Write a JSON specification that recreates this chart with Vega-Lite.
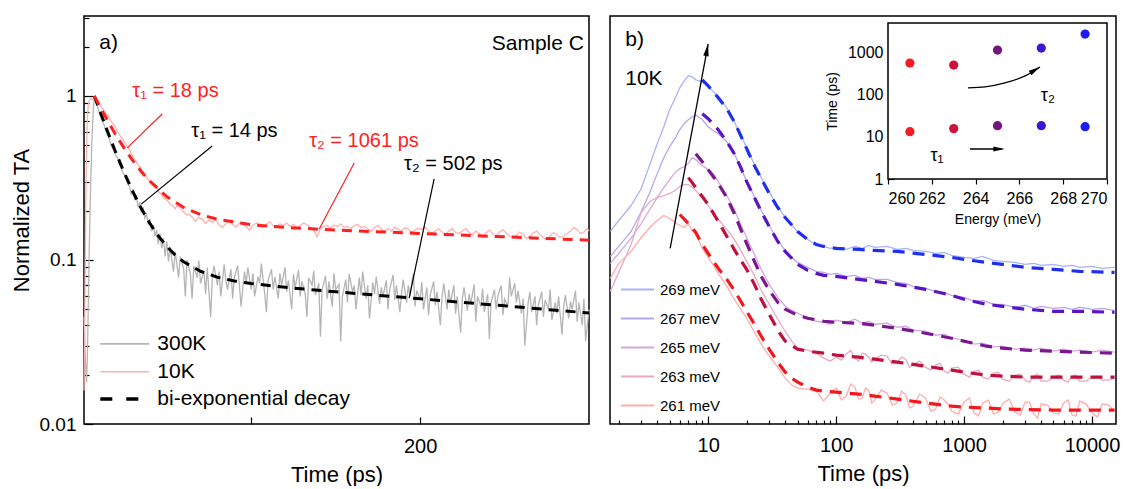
{
  "$schema": "https://vega.github.io/schema/vega-lite/v6.json",
  "background": "white",
  "padding": {"left": 9, "top": 15, "right": 5, "bottom": 0},
  "spacing": 10,
  "resolve": {"scale": {"color": "independent", "stroke": "independent", "fill": "independent"}, "legend": {"color": "independent"}},
  "config": {
    "font": "Liberation Sans",
    "view": {"stroke": "#000000", "strokeWidth": 1.5},
    "axis": {"domain": false, "grid": false, "labelColor": "#000000", "titleColor": "#000000", "tickColor": "#000000", "tickWidth": 1.2, "titleFontWeight": "normal", "labelFontSize": 20, "titleFontSize": 22},
    "legend": {"labelColor": "#000000", "labelLimit": 400}
  },
  "datasets": {
    "tracesA": [
      {"t":1,"v":0.045,"series":"300K"},{"t":1.5,"v":0.03,"series":"300K"},{"t":2,"v":0.022,"series":"300K"},{"t":2.5,"v":0.018,"series":"300K"},{"t":3,"v":0.026,"series":"300K"},{"t":3.5,"v":0.05,"series":"300K"},{"t":4,"v":0.1,"series":"300K"},{"t":4.5,"v":0.18,"series":"300K"},{"t":5,"v":0.3,"series":"300K"},{"t":5.5,"v":0.46,"series":"300K"},{"t":6,"v":0.64,"series":"300K"},{"t":6.5,"v":0.82,"series":"300K"},{"t":7,"v":0.95,"series":"300K"},{"t":7.5,"v":0.99,"series":"300K"},{"t":8,"v":0.94,"series":"300K"},{"t":9,"v":0.86,"series":"300K"},{"t":10,"v":0.8,"series":"300K"},{"t":11,"v":0.74,"series":"300K"},{"t":12,"v":0.7,"series":"300K"},{"t":13,"v":0.66,"series":"300K"},{"t":14,"v":0.61,"series":"300K"},{"t":15,"v":0.58,"series":"300K"},{"t":16,"v":0.55,"series":"300K"},{"t":17,"v":0.5,"series":"300K"},{"t":18,"v":0.48,"series":"300K"},{"t":19,"v":0.46,"series":"300K"},{"t":20,"v":0.43,"series":"300K"},{"t":21,"v":0.42,"series":"300K"},{"t":22,"v":0.38,"series":"300K"},{"t":23,"v":0.37,"series":"300K"},{"t":24,"v":0.34,"series":"300K"},{"t":25,"v":0.33,"series":"300K"},{"t":26,"v":0.31,"series":"300K"},{"t":27,"v":0.29,"series":"300K"},{"t":28,"v":0.28,"series":"300K"},{"t":29,"v":0.25,"series":"300K"},{"t":30,"v":0.27,"series":"300K"},{"t":31,"v":0.235,"series":"300K"},{"t":32,"v":0.245,"series":"300K"},{"t":33,"v":0.21,"series":"300K"},{"t":34,"v":0.225,"series":"300K"},{"t":35,"v":0.195,"series":"300K"},{"t":36,"v":0.21,"series":"300K"},{"t":37,"v":0.18,"series":"300K"},{"t":38,"v":0.19,"series":"300K"},{"t":39,"v":0.165,"series":"300K"},{"t":40,"v":0.178,"series":"300K"},{"t":41,"v":0.15,"series":"300K"},{"t":42,"v":0.163,"series":"300K"},{"t":43,"v":0.14,"series":"300K"},{"t":44,"v":0.152,"series":"300K"},{"t":45,"v":0.125,"series":"300K"},{"t":46,"v":0.145,"series":"300K"},{"t":47,"v":0.118,"series":"300K"},{"t":48,"v":0.136,"series":"300K"},{"t":49,"v":0.105,"series":"300K"},{"t":50,"v":0.13,"series":"300K"},{"t":51,"v":0.098,"series":"300K"},{"t":52,"v":0.12,"series":"300K"},{"t":53,"v":0.1,"series":"300K"},{"t":54,"v":0.085,"series":"300K"},{"t":55,"v":0.112,"series":"300K"},{"t":56,"v":0.094,"series":"300K"},{"t":57,"v":0.078,"series":"300K"},{"t":58,"v":0.105,"series":"300K"},{"t":60,"v":0.088,"series":"300K"},{"t":61,"v":0.06,"series":"300K"},{"t":62,"v":0.1,"series":"300K"},{"t":64,"v":0.082,"series":"300K"},{"t":65,"v":0.058,"series":"300K"},{"t":66,"v":0.092,"series":"300K"},{"t":68,"v":0.078,"series":"300K"},{"t":69,"v":0.099,"series":"300K"},{"t":70,"v":0.072,"series":"300K"},{"t":72,"v":0.086,"series":"300K"},{"t":73,"v":0.062,"series":"300K"},{"t":74,"v":0.09,"series":"300K"},{"t":76,"v":0.045,"series":"300K"},{"t":77,"v":0.08,"series":"300K"},{"t":78,"v":0.092,"series":"300K"},{"t":80,"v":0.07,"series":"300K"},{"t":81,"v":0.085,"series":"300K"},{"t":82,"v":0.06,"series":"300K"},{"t":84,"v":0.094,"series":"300K"},{"t":85,"v":0.075,"series":"300K"},{"t":86,"v":0.066,"series":"300K"},{"t":88,"v":0.088,"series":"300K"},{"t":89,"v":0.058,"series":"300K"},{"t":90,"v":0.078,"series":"300K"},{"t":92,"v":0.092,"series":"300K"},{"t":93,"v":0.07,"series":"300K"},{"t":94,"v":0.052,"series":"300K"},{"t":96,"v":0.085,"series":"300K"},{"t":97,"v":0.072,"series":"300K"},{"t":98,"v":0.09,"series":"300K"},{"t":100,"v":0.066,"series":"300K"},{"t":101,"v":0.083,"series":"300K"},{"t":102,"v":0.06,"series":"300K"},{"t":104,"v":0.079,"series":"300K"},{"t":105,"v":0.072,"series":"300K"},{"t":106,"v":0.095,"series":"300K"},{"t":108,"v":0.062,"series":"300K"},{"t":109,"v":0.048,"series":"300K"},{"t":110,"v":0.075,"series":"300K"},{"t":112,"v":0.088,"series":"300K"},{"t":113,"v":0.066,"series":"300K"},{"t":114,"v":0.079,"series":"300K"},{"t":116,"v":0.058,"series":"300K"},{"t":117,"v":0.083,"series":"300K"},{"t":118,"v":0.07,"series":"300K"},{"t":120,"v":0.09,"series":"300K"},{"t":121,"v":0.064,"series":"300K"},{"t":122,"v":0.075,"series":"300K"},{"t":124,"v":0.05,"series":"300K"},{"t":125,"v":0.082,"series":"300K"},{"t":126,"v":0.068,"series":"300K"},{"t":128,"v":0.087,"series":"300K"},{"t":129,"v":0.06,"series":"300K"},{"t":130,"v":0.074,"series":"300K"},{"t":132,"v":0.062,"series":"300K"},{"t":133,"v":0.045,"series":"300K"},{"t":134,"v":0.078,"series":"300K"},{"t":136,"v":0.07,"series":"300K"},{"t":137,"v":0.086,"series":"300K"},{"t":138,"v":0.061,"series":"300K"},{"t":140,"v":0.072,"series":"300K"},{"t":141,"v":0.034,"series":"300K"},{"t":142,"v":0.066,"series":"300K"},{"t":144,"v":0.08,"series":"300K"},{"t":145,"v":0.058,"series":"300K"},{"t":146,"v":0.074,"series":"300K"},{"t":148,"v":0.052,"series":"300K"},{"t":149,"v":0.083,"series":"300K"},{"t":150,"v":0.066,"series":"300K"},{"t":152,"v":0.071,"series":"300K"},{"t":153,"v":0.032,"series":"300K"},{"t":154,"v":0.06,"series":"300K"},{"t":156,"v":0.076,"series":"300K"},{"t":157,"v":0.055,"series":"300K"},{"t":158,"v":0.082,"series":"300K"},{"t":160,"v":0.064,"series":"300K"},{"t":161,"v":0.07,"series":"300K"},{"t":162,"v":0.05,"series":"300K"},{"t":164,"v":0.078,"series":"300K"},{"t":165,"v":0.061,"series":"300K"},{"t":166,"v":0.085,"series":"300K"},{"t":168,"v":0.058,"series":"300K"},{"t":169,"v":0.07,"series":"300K"},{"t":170,"v":0.044,"series":"300K"},{"t":172,"v":0.073,"series":"300K"},{"t":173,"v":0.062,"series":"300K"},{"t":174,"v":0.079,"series":"300K"},{"t":176,"v":0.054,"series":"300K"},{"t":177,"v":0.068,"series":"300K"},{"t":178,"v":0.06,"series":"300K"},{"t":180,"v":0.075,"series":"300K"},{"t":181,"v":0.05,"series":"300K"},{"t":182,"v":0.066,"series":"300K"},{"t":184,"v":0.081,"series":"300K"},{"t":185,"v":0.057,"series":"300K"},{"t":186,"v":0.07,"series":"300K"},{"t":188,"v":0.048,"series":"300K"},{"t":189,"v":0.062,"series":"300K"},{"t":190,"v":0.076,"series":"300K"},{"t":192,"v":0.055,"series":"300K"},{"t":193,"v":0.07,"series":"300K"},{"t":194,"v":0.06,"series":"300K"},{"t":196,"v":0.083,"series":"300K"},{"t":197,"v":0.052,"series":"300K"},{"t":198,"v":0.065,"series":"300K"},{"t":200,"v":0.058,"series":"300K"},{"t":201,"v":0.073,"series":"300K"},{"t":202,"v":0.05,"series":"300K"},{"t":204,"v":0.068,"series":"300K"},{"t":205,"v":0.046,"series":"300K"},{"t":206,"v":0.061,"series":"300K"},{"t":208,"v":0.074,"series":"300K"},{"t":209,"v":0.053,"series":"300K"},{"t":210,"v":0.064,"series":"300K"},{"t":212,"v":0.04,"series":"300K"},{"t":213,"v":0.06,"series":"300K"},{"t":214,"v":0.072,"series":"300K"},{"t":216,"v":0.05,"series":"300K"},{"t":217,"v":0.066,"series":"300K"},{"t":218,"v":0.055,"series":"300K"},{"t":220,"v":0.07,"series":"300K"},{"t":221,"v":0.047,"series":"300K"},{"t":222,"v":0.06,"series":"300K"},{"t":224,"v":0.036,"series":"300K"},{"t":225,"v":0.058,"series":"300K"},{"t":226,"v":0.068,"series":"300K"},{"t":228,"v":0.049,"series":"300K"},{"t":229,"v":0.062,"series":"300K"},{"t":230,"v":0.054,"series":"300K"},{"t":232,"v":0.071,"series":"300K"},{"t":233,"v":0.042,"series":"300K"},{"t":234,"v":0.06,"series":"300K"},{"t":236,"v":0.052,"series":"300K"},{"t":237,"v":0.067,"series":"300K"},{"t":238,"v":0.048,"series":"300K"},{"t":240,"v":0.062,"series":"300K"},{"t":241,"v":0.033,"series":"300K"},{"t":242,"v":0.055,"series":"300K"},{"t":244,"v":0.066,"series":"300K"},{"t":245,"v":0.05,"series":"300K"},{"t":246,"v":0.06,"series":"300K"},{"t":248,"v":0.07,"series":"300K"},{"t":249,"v":0.046,"series":"300K"},{"t":250,"v":0.058,"series":"300K"},{"t":252,"v":0.052,"series":"300K"},{"t":253,"v":0.078,"series":"300K"},{"t":254,"v":0.06,"series":"300K"},{"t":256,"v":0.072,"series":"300K"},{"t":257,"v":0.055,"series":"300K"},{"t":258,"v":0.065,"series":"300K"},{"t":260,"v":0.047,"series":"300K"},{"t":261,"v":0.058,"series":"300K"},{"t":262,"v":0.03,"series":"300K"},{"t":264,"v":0.055,"series":"300K"},{"t":265,"v":0.064,"series":"300K"},{"t":266,"v":0.048,"series":"300K"},{"t":268,"v":0.06,"series":"300K"},{"t":269,"v":0.04,"series":"300K"},{"t":270,"v":0.053,"series":"300K"},{"t":272,"v":0.064,"series":"300K"},{"t":273,"v":0.045,"series":"300K"},{"t":274,"v":0.057,"series":"300K"},{"t":276,"v":0.05,"series":"300K"},{"t":277,"v":0.066,"series":"300K"},{"t":278,"v":0.043,"series":"300K"},{"t":280,"v":0.055,"series":"300K"},{"t":281,"v":0.047,"series":"300K"},{"t":282,"v":0.06,"series":"300K"},{"t":284,"v":0.035,"series":"300K"},{"t":285,"v":0.052,"series":"300K"},{"t":286,"v":0.061,"series":"300K"},{"t":288,"v":0.044,"series":"300K"},{"t":289,"v":0.056,"series":"300K"},{"t":290,"v":0.05,"series":"300K"},{"t":292,"v":0.065,"series":"300K"},{"t":293,"v":0.042,"series":"300K"},{"t":294,"v":0.055,"series":"300K"},{"t":296,"v":0.04,"series":"300K"},{"t":297,"v":0.058,"series":"300K"},{"t":298,"v":0.032,"series":"300K"},{"t":300,"v":0.05,"series":"300K"},
      {"t":1,"v":0.016,"series":"10K"},{"t":1.5,"v":0.05,"series":"10K"},{"t":2,"v":0.2,"series":"10K"},{"t":2.5,"v":0.45,"series":"10K"},{"t":3,"v":0.72,"series":"10K"},{"t":3.5,"v":0.88,"series":"10K"},{"t":4,"v":0.93,"series":"10K"},{"t":4.5,"v":0.955,"series":"10K"},{"t":5,"v":0.96,"series":"10K"},{"t":5.5,"v":0.955,"series":"10K"},{"t":6,"v":0.95,"series":"10K"},{"t":6.5,"v":0.96,"series":"10K"},{"t":7,"v":0.975,"series":"10K"},{"t":7.5,"v":0.97,"series":"10K"},{"t":8,"v":0.95,"series":"10K"},{"t":9,"v":0.93,"series":"10K"},{"t":10,"v":0.9,"series":"10K"},{"t":11,"v":0.87,"series":"10K"},{"t":12,"v":0.84,"series":"10K"},{"t":13,"v":0.81,"series":"10K"},{"t":14,"v":0.78,"series":"10K"},{"t":15,"v":0.76,"series":"10K"},{"t":16,"v":0.73,"series":"10K"},{"t":17,"v":0.7,"series":"10K"},{"t":18,"v":0.68,"series":"10K"},{"t":19,"v":0.66,"series":"10K"},{"t":20,"v":0.63,"series":"10K"},{"t":21,"v":0.6,"series":"10K"},{"t":22,"v":0.58,"series":"10K"},{"t":23,"v":0.56,"series":"10K"},{"t":24,"v":0.545,"series":"10K"},{"t":25,"v":0.52,"series":"10K"},{"t":26,"v":0.5,"series":"10K"},{"t":27,"v":0.49,"series":"10K"},{"t":28,"v":0.47,"series":"10K"},{"t":29,"v":0.445,"series":"10K"},{"t":30,"v":0.43,"series":"10K"},{"t":31,"v":0.41,"series":"10K"},{"t":32,"v":0.395,"series":"10K"},{"t":33,"v":0.38,"series":"10K"},{"t":34,"v":0.37,"series":"10K"},{"t":35,"v":0.355,"series":"10K"},{"t":36,"v":0.34,"series":"10K"},{"t":38,"v":0.32,"series":"10K"},{"t":40,"v":0.3,"series":"10K"},{"t":42,"v":0.285,"series":"10K"},{"t":43,"v":0.29,"series":"10K"},{"t":45,"v":0.262,"series":"10K"},{"t":47,"v":0.25,"series":"10K"},{"t":48,"v":0.238,"series":"10K"},{"t":50,"v":0.232,"series":"10K"},{"t":52,"v":0.22,"series":"10K"},{"t":54,"v":0.212,"series":"10K"},{"t":55,"v":0.205,"series":"10K"},{"t":56,"v":0.215,"series":"10K"},{"t":58,"v":0.208,"series":"10K"},{"t":60,"v":0.196,"series":"10K"},{"t":62,"v":0.188,"series":"10K"},{"t":63,"v":0.19,"series":"10K"},{"t":65,"v":0.183,"series":"10K"},{"t":67,"v":0.172,"series":"10K"},{"t":69,"v":0.182,"series":"10K"},{"t":71,"v":0.178,"series":"10K"},{"t":73,"v":0.167,"series":"10K"},{"t":75,"v":0.175,"series":"10K"},{"t":77,"v":0.17,"series":"10K"},{"t":79,"v":0.176,"series":"10K"},{"t":81,"v":0.163,"series":"10K"},{"t":83,"v":0.158,"series":"10K"},{"t":85,"v":0.166,"series":"10K"},{"t":87,"v":0.172,"series":"10K"},{"t":89,"v":0.165,"series":"10K"},{"t":91,"v":0.158,"series":"10K"},{"t":93,"v":0.168,"series":"10K"},{"t":95,"v":0.166,"series":"10K"},{"t":97,"v":0.16,"series":"10K"},{"t":99,"v":0.152,"series":"10K"},{"t":101,"v":0.162,"series":"10K"},{"t":103,"v":0.168,"series":"10K"},{"t":105,"v":0.165,"series":"10K"},{"t":107,"v":0.158,"series":"10K"},{"t":109,"v":0.165,"series":"10K"},{"t":111,"v":0.17,"series":"10K"},{"t":113,"v":0.162,"series":"10K"},{"t":115,"v":0.158,"series":"10K"},{"t":117,"v":0.166,"series":"10K"},{"t":119,"v":0.162,"series":"10K"},{"t":121,"v":0.168,"series":"10K"},{"t":123,"v":0.16,"series":"10K"},{"t":125,"v":0.165,"series":"10K"},{"t":127,"v":0.157,"series":"10K"},{"t":129,"v":0.162,"series":"10K"},{"t":131,"v":0.168,"series":"10K"},{"t":133,"v":0.164,"series":"10K"},{"t":135,"v":0.158,"series":"10K"},{"t":137,"v":0.152,"series":"10K"},{"t":139,"v":0.138,"series":"10K"},{"t":141,"v":0.155,"series":"10K"},{"t":143,"v":0.16,"series":"10K"},{"t":145,"v":0.162,"series":"10K"},{"t":147,"v":0.157,"series":"10K"},{"t":149,"v":0.163,"series":"10K"},{"t":151,"v":0.16,"series":"10K"},{"t":153,"v":0.166,"series":"10K"},{"t":155,"v":0.158,"series":"10K"},{"t":157,"v":0.16,"series":"10K"},{"t":159,"v":0.155,"series":"10K"},{"t":161,"v":0.162,"series":"10K"},{"t":163,"v":0.165,"series":"10K"},{"t":165,"v":0.157,"series":"10K"},{"t":167,"v":0.16,"series":"10K"},{"t":169,"v":0.155,"series":"10K"},{"t":171,"v":0.15,"series":"10K"},{"t":173,"v":0.157,"series":"10K"},{"t":175,"v":0.162,"series":"10K"},{"t":177,"v":0.155,"series":"10K"},{"t":179,"v":0.148,"series":"10K"},{"t":181,"v":0.156,"series":"10K"},{"t":183,"v":0.15,"series":"10K"},{"t":185,"v":0.158,"series":"10K"},{"t":187,"v":0.154,"series":"10K"},{"t":189,"v":0.15,"series":"10K"},{"t":191,"v":0.157,"series":"10K"},{"t":193,"v":0.154,"series":"10K"},{"t":195,"v":0.148,"series":"10K"},{"t":197,"v":0.152,"series":"10K"},{"t":199,"v":0.156,"series":"10K"},{"t":201,"v":0.153,"series":"10K"},{"t":203,"v":0.158,"series":"10K"},{"t":205,"v":0.15,"series":"10K"},{"t":207,"v":0.146,"series":"10K"},{"t":209,"v":0.15,"series":"10K"},{"t":211,"v":0.155,"series":"10K"},{"t":213,"v":0.148,"series":"10K"},{"t":215,"v":0.142,"series":"10K"},{"t":217,"v":0.15,"series":"10K"},{"t":219,"v":0.155,"series":"10K"},{"t":221,"v":0.147,"series":"10K"},{"t":223,"v":0.145,"series":"10K"},{"t":225,"v":0.15,"series":"10K"},{"t":227,"v":0.155,"series":"10K"},{"t":229,"v":0.147,"series":"10K"},{"t":231,"v":0.142,"series":"10K"},{"t":233,"v":0.15,"series":"10K"},{"t":235,"v":0.145,"series":"10K"},{"t":237,"v":0.138,"series":"10K"},{"t":239,"v":0.146,"series":"10K"},{"t":241,"v":0.152,"series":"10K"},{"t":243,"v":0.145,"series":"10K"},{"t":245,"v":0.14,"series":"10K"},{"t":247,"v":0.148,"series":"10K"},{"t":249,"v":0.153,"series":"10K"},{"t":251,"v":0.146,"series":"10K"},{"t":253,"v":0.14,"series":"10K"},{"t":255,"v":0.136,"series":"10K"},{"t":257,"v":0.142,"series":"10K"},{"t":259,"v":0.148,"series":"10K"},{"t":261,"v":0.143,"series":"10K"},{"t":263,"v":0.135,"series":"10K"},{"t":265,"v":0.14,"series":"10K"},{"t":267,"v":0.146,"series":"10K"},{"t":269,"v":0.15,"series":"10K"},{"t":271,"v":0.142,"series":"10K"},{"t":273,"v":0.137,"series":"10K"},{"t":275,"v":0.133,"series":"10K"},{"t":277,"v":0.14,"series":"10K"},{"t":279,"v":0.147,"series":"10K"},{"t":281,"v":0.142,"series":"10K"},{"t":283,"v":0.137,"series":"10K"},{"t":285,"v":0.14,"series":"10K"},{"t":287,"v":0.145,"series":"10K"},{"t":289,"v":0.15,"series":"10K"},{"t":291,"v":0.158,"series":"10K"},{"t":293,"v":0.153,"series":"10K"},{"t":295,"v":0.145,"series":"10K"},{"t":297,"v":0.148,"series":"10K"},{"t":299,"v":0.155,"series":"10K"},{"t":300,"v":0.15,"series":"10K"}
    ],
    "fitsA": [
      {"t":7.1,"v":1,"series":"bi-exponential decay"},{"t":10,"v":0.829,"series":"bi-exponential decay"},{"t":15,"v":0.604,"series":"bi-exponential decay"},{"t":20,"v":0.447,"series":"bi-exponential decay"},{"t":25,"v":0.337,"series":"bi-exponential decay"},{"t":30,"v":0.26,"series":"bi-exponential decay"},{"t":35,"v":0.205,"series":"bi-exponential decay"},{"t":40,"v":0.167,"series":"bi-exponential decay"},{"t":45,"v":0.14,"series":"bi-exponential decay"},{"t":50,"v":0.121,"series":"bi-exponential decay"},{"t":55,"v":0.107,"series":"bi-exponential decay"},{"t":60,"v":0.0974,"series":"bi-exponential decay"},{"t":70,"v":0.0853,"series":"bi-exponential decay"},{"t":80,"v":0.0785,"series":"bi-exponential decay"},{"t":90,"v":0.0745,"series":"bi-exponential decay"},{"t":100,"v":0.0718,"series":"bi-exponential decay"},{"t":125,"v":0.0673,"series":"bi-exponential decay"},{"t":150,"v":0.064,"series":"bi-exponential decay"},{"t":175,"v":0.0609,"series":"bi-exponential decay"},{"t":200,"v":0.058,"series":"bi-exponential decay"},{"t":225,"v":0.0551,"series":"bi-exponential decay"},{"t":250,"v":0.0525,"series":"bi-exponential decay"},{"t":275,"v":0.0499,"series":"bi-exponential decay"},{"t":300,"v":0.0475,"series":"bi-exponential decay"},
      {"t":7.1,"v":1,"series":"bi-exponential decay (10K)"},{"t":10,"v":0.877,"series":"bi-exponential decay (10K)"},{"t":15,"v":0.705,"series":"bi-exponential decay (10K)"},{"t":20,"v":0.575,"series":"bi-exponential decay (10K)"},{"t":25,"v":0.477,"series":"bi-exponential decay (10K)"},{"t":30,"v":0.402,"series":"bi-exponential decay (10K)"},{"t":35,"v":0.345,"series":"bi-exponential decay (10K)"},{"t":40,"v":0.302,"series":"bi-exponential decay (10K)"},{"t":50,"v":0.243,"series":"bi-exponential decay (10K)"},{"t":60,"v":0.209,"series":"bi-exponential decay (10K)"},{"t":70,"v":0.189,"series":"bi-exponential decay (10K)"},{"t":80,"v":0.177,"series":"bi-exponential decay (10K)"},{"t":100,"v":0.164,"series":"bi-exponential decay (10K)"},{"t":120,"v":0.158,"series":"bi-exponential decay (10K)"},{"t":150,"v":0.152,"series":"bi-exponential decay (10K)"},{"t":200,"v":0.1451,"series":"bi-exponential decay (10K)"},{"t":250,"v":0.1384,"series":"bi-exponential decay (10K)"},{"t":300,"v":0.132,"series":"bi-exponential decay (10K)"}
    ],
    "keyA": [
      {"t":10.65,"t2":39.6,"v":0.0308,"series":"300K"},
      {"t":10.65,"t2":39.6,"v":0.0208,"series":"10K"},
      {"t":10.65,"t2":39.6,"v":0.0142,"series":"bi-exponential decay"}
    ],
    "keyLabelsA": [
      {"t":44.4,"v":0.0308,"text":"300K"},
      {"t":44.4,"v":0.0208,"text":"10K"},
      {"t":44.4,"v":0.0142,"text":"bi-exponential decay"}
    ],
    "leadersA": [
      {"t":47.3,"v":0.776,"t2":26.6,"v2":0.482,"sample":"10K"},
      {"t":76.9,"v":0.495,"t2":34.9,"v2":0.219,"sample":"300K"},
      {"t":161,"v":0.39,"t2":140.2,"v2":0.154,"sample":"10K"},
      {"t":208.3,"v":0.312,"t2":193.5,"v2":0.0586,"sample":"300K"}
    ],
    "notesA": [
      {"t":29.6,"v":1.07,"text":"τ₁ = 18 ps","sample":"10K"},
      {"t":64.5,"v":0.612,"text":"τ₁ = 14 ps","sample":"300K"},
      {"t":134.3,"v":0.532,"text":"τ₂ = 1061 ps","sample":"10K"},
      {"t":190.5,"v":0.385,"text":"τ₂ = 502 ps","sample":"300K"}
    ],
    "panelTagA": [{"t":10,"v":2.1,"text":"a)"}],
    "sampleTagA": [{"t":297,"v":2.08,"text":"Sample C"}],
    "tracesB": [
      {"t":1.72,"v":193,"label":"269 meV"},{"t":2,"v":204,"label":"269 meV"},{"t":2.5,"v":219,"label":"269 meV"},{"t":3,"v":236,"label":"269 meV"},{"t":3.5,"v":260,"label":"269 meV"},{"t":4,"v":281,"label":"269 meV"},{"t":4.5,"v":298,"label":"269 meV"},{"t":5,"v":315,"label":"269 meV"},{"t":5.5,"v":326,"label":"269 meV"},{"t":6,"v":337,"label":"269 meV"},{"t":6.5,"v":344,"label":"269 meV"},{"t":7,"v":349,"label":"269 meV"},{"t":7.5,"v":348,"label":"269 meV"},{"t":8,"v":345,"label":"269 meV"},{"t":9,"v":343,"label":"269 meV"},{"t":10,"v":339,"label":"269 meV"},{"t":11,"v":333,"label":"269 meV"},{"t":12,"v":328,"label":"269 meV"},{"t":14,"v":317,"label":"269 meV"},{"t":16,"v":303,"label":"269 meV"},{"t":18,"v":290,"label":"269 meV"},{"t":20,"v":277,"label":"269 meV"},{"t":23,"v":260,"label":"269 meV"},{"t":26,"v":247,"label":"269 meV"},{"t":30,"v":233,"label":"269 meV"},{"t":35,"v":218,"label":"269 meV"},{"t":40,"v":207,"label":"269 meV"},{"t":45,"v":199,"label":"269 meV"},{"t":50,"v":193,"label":"269 meV"},{"t":60,"v":185,"label":"269 meV"},{"t":70,"v":180,"label":"269 meV"},{"t":80,"v":178,"label":"269 meV"},{"t":90,"v":176,"label":"269 meV"},{"t":100,"v":177,"label":"269 meV"},{"t":120,"v":175,"label":"269 meV"},{"t":140,"v":178,"label":"269 meV"},{"t":160,"v":176,"label":"269 meV"},{"t":180,"v":179,"label":"269 meV"},{"t":200,"v":177,"label":"269 meV"},{"t":250,"v":178,"label":"269 meV"},{"t":300,"v":175,"label":"269 meV"},{"t":350,"v":176,"label":"269 meV"},{"t":400,"v":174,"label":"269 meV"},{"t":500,"v":173,"label":"269 meV"},{"t":600,"v":171,"label":"269 meV"},{"t":700,"v":172,"label":"269 meV"},{"t":800,"v":169,"label":"269 meV"},{"t":1000,"v":167,"label":"269 meV"},{"t":1200,"v":166,"label":"269 meV"},{"t":1400,"v":168,"label":"269 meV"},{"t":1700,"v":164,"label":"269 meV"},{"t":2000,"v":163,"label":"269 meV"},{"t":2500,"v":162,"label":"269 meV"},{"t":3000,"v":160,"label":"269 meV"},{"t":3500,"v":161,"label":"269 meV"},{"t":4000,"v":159,"label":"269 meV"},{"t":5000,"v":160,"label":"269 meV"},{"t":6000,"v":158,"label":"269 meV"},{"t":7000,"v":159,"label":"269 meV"},{"t":8000,"v":157,"label":"269 meV"},{"t":10000,"v":158,"label":"269 meV"},{"t":12000,"v":156,"label":"269 meV"},{"t":15000,"v":157,"label":"269 meV"},
      {"t":1.72,"v":168,"label":"267 meV"},{"t":2,"v":178,"label":"267 meV"},{"t":2.5,"v":193,"label":"267 meV"},{"t":3,"v":213,"label":"267 meV"},{"t":3.5,"v":232,"label":"267 meV"},{"t":4,"v":251,"label":"267 meV"},{"t":4.5,"v":267,"label":"267 meV"},{"t":5,"v":278,"label":"267 meV"},{"t":5.5,"v":286,"label":"267 meV"},{"t":6,"v":295,"label":"267 meV"},{"t":6.5,"v":301,"label":"267 meV"},{"t":7,"v":305,"label":"267 meV"},{"t":7.5,"v":308,"label":"267 meV"},{"t":8,"v":310,"label":"267 meV"},{"t":9,"v":305,"label":"267 meV"},{"t":10,"v":298,"label":"267 meV"},{"t":11,"v":294,"label":"267 meV"},{"t":12,"v":291,"label":"267 meV"},{"t":14,"v":283,"label":"267 meV"},{"t":16,"v":271,"label":"267 meV"},{"t":18,"v":257,"label":"267 meV"},{"t":20,"v":243,"label":"267 meV"},{"t":23,"v":228,"label":"267 meV"},{"t":26,"v":214,"label":"267 meV"},{"t":30,"v":199,"label":"267 meV"},{"t":35,"v":184,"label":"267 meV"},{"t":40,"v":174,"label":"267 meV"},{"t":45,"v":167,"label":"267 meV"},{"t":50,"v":162,"label":"267 meV"},{"t":60,"v":157,"label":"267 meV"},{"t":70,"v":153,"label":"267 meV"},{"t":80,"v":152,"label":"267 meV"},{"t":90,"v":150,"label":"267 meV"},{"t":100,"v":151,"label":"267 meV"},{"t":120,"v":148,"label":"267 meV"},{"t":140,"v":149,"label":"267 meV"},{"t":160,"v":146,"label":"267 meV"},{"t":180,"v":147,"label":"267 meV"},{"t":200,"v":145,"label":"267 meV"},{"t":250,"v":145,"label":"267 meV"},{"t":300,"v":142,"label":"267 meV"},{"t":350,"v":141,"label":"267 meV"},{"t":400,"v":138,"label":"267 meV"},{"t":500,"v":136,"label":"267 meV"},{"t":600,"v":133,"label":"267 meV"},{"t":700,"v":132,"label":"267 meV"},{"t":800,"v":129,"label":"267 meV"},{"t":1000,"v":127,"label":"267 meV"},{"t":1200,"v":123,"label":"267 meV"},{"t":1400,"v":124,"label":"267 meV"},{"t":1700,"v":120,"label":"267 meV"},{"t":2000,"v":120,"label":"267 meV"},{"t":2500,"v":117,"label":"267 meV"},{"t":3000,"v":119,"label":"267 meV"},{"t":3500,"v":116,"label":"267 meV"},{"t":4000,"v":118,"label":"267 meV"},{"t":5000,"v":116,"label":"267 meV"},{"t":6000,"v":117,"label":"267 meV"},{"t":7000,"v":115,"label":"267 meV"},{"t":8000,"v":117,"label":"267 meV"},{"t":10000,"v":115,"label":"267 meV"},{"t":12000,"v":116,"label":"267 meV"},{"t":15000,"v":114,"label":"267 meV"},
      {"t":1.72,"v":161,"label":"265 meV"},{"t":2,"v":171,"label":"265 meV"},{"t":2.5,"v":186,"label":"265 meV"},{"t":3,"v":201,"label":"265 meV"},{"t":3.5,"v":215,"label":"265 meV"},{"t":4,"v":227,"label":"265 meV"},{"t":4.5,"v":237,"label":"265 meV"},{"t":5,"v":245,"label":"265 meV"},{"t":5.5,"v":252,"label":"265 meV"},{"t":6,"v":256,"label":"265 meV"},{"t":6.5,"v":258,"label":"265 meV"},{"t":7,"v":261,"label":"265 meV"},{"t":7.5,"v":267,"label":"265 meV"},{"t":8,"v":265,"label":"265 meV"},{"t":9,"v":259,"label":"265 meV"},{"t":10,"v":255,"label":"265 meV"},{"t":11,"v":251,"label":"265 meV"},{"t":12,"v":243,"label":"265 meV"},{"t":14,"v":229,"label":"265 meV"},{"t":16,"v":215,"label":"265 meV"},{"t":18,"v":200,"label":"265 meV"},{"t":20,"v":187,"label":"265 meV"},{"t":23,"v":170,"label":"265 meV"},{"t":26,"v":155,"label":"265 meV"},{"t":30,"v":140,"label":"265 meV"},{"t":35,"v":127,"label":"265 meV"},{"t":40,"v":118,"label":"265 meV"},{"t":45,"v":114,"label":"265 meV"},{"t":50,"v":111,"label":"265 meV"},{"t":60,"v":106,"label":"265 meV"},{"t":70,"v":103,"label":"265 meV"},{"t":80,"v":102,"label":"265 meV"},{"t":90,"v":100,"label":"265 meV"},{"t":100,"v":104,"label":"265 meV"},{"t":120,"v":102,"label":"265 meV"},{"t":140,"v":105,"label":"265 meV"},{"t":160,"v":101,"label":"265 meV"},{"t":180,"v":103,"label":"265 meV"},{"t":200,"v":100,"label":"265 meV"},{"t":250,"v":101,"label":"265 meV"},{"t":300,"v":97,"label":"265 meV"},{"t":350,"v":98,"label":"265 meV"},{"t":400,"v":94,"label":"265 meV"},{"t":500,"v":93,"label":"265 meV"},{"t":600,"v":89,"label":"265 meV"},{"t":700,"v":90,"label":"265 meV"},{"t":800,"v":86,"label":"265 meV"},{"t":1000,"v":84,"label":"265 meV"},{"t":1200,"v":80,"label":"265 meV"},{"t":1400,"v":81,"label":"265 meV"},{"t":1700,"v":77,"label":"265 meV"},{"t":2000,"v":78,"label":"265 meV"},{"t":2500,"v":75,"label":"265 meV"},{"t":3000,"v":76,"label":"265 meV"},{"t":3500,"v":74,"label":"265 meV"},{"t":4000,"v":76,"label":"265 meV"},{"t":5000,"v":73,"label":"265 meV"},{"t":6000,"v":75,"label":"265 meV"},{"t":7000,"v":73,"label":"265 meV"},{"t":8000,"v":74,"label":"265 meV"},{"t":10000,"v":72,"label":"265 meV"},{"t":12000,"v":74,"label":"265 meV"},{"t":15000,"v":72,"label":"265 meV"},
      {"t":1.72,"v":133,"label":"263 meV"},{"t":2,"v":152,"label":"263 meV"},{"t":2.5,"v":180,"label":"263 meV"},{"t":3,"v":212,"label":"263 meV"},{"t":3.5,"v":223,"label":"263 meV"},{"t":4,"v":227,"label":"263 meV"},{"t":4.5,"v":229,"label":"263 meV"},{"t":5,"v":231,"label":"263 meV"},{"t":5.5,"v":234,"label":"263 meV"},{"t":6,"v":238,"label":"263 meV"},{"t":6.5,"v":240,"label":"263 meV"},{"t":7,"v":240,"label":"263 meV"},{"t":7.5,"v":237,"label":"263 meV"},{"t":8,"v":234,"label":"263 meV"},{"t":9,"v":227,"label":"263 meV"},{"t":10,"v":219,"label":"263 meV"},{"t":11,"v":212,"label":"263 meV"},{"t":12,"v":205,"label":"263 meV"},{"t":14,"v":195,"label":"263 meV"},{"t":16,"v":185,"label":"263 meV"},{"t":18,"v":174,"label":"263 meV"},{"t":20,"v":163,"label":"263 meV"},{"t":23,"v":149,"label":"263 meV"},{"t":26,"v":134,"label":"263 meV"},{"t":30,"v":120,"label":"263 meV"},{"t":35,"v":105,"label":"263 meV"},{"t":40,"v":93,"label":"263 meV"},{"t":45,"v":83,"label":"263 meV"},{"t":50,"v":76,"label":"263 meV"},{"t":60,"v":74,"label":"263 meV"},{"t":70,"v":71,"label":"263 meV"},{"t":80,"v":66,"label":"263 meV"},{"t":90,"v":63,"label":"263 meV"},{"t":100,"v":67,"label":"263 meV"},{"t":110,"v":64,"label":"263 meV"},{"t":120,"v":70,"label":"263 meV"},{"t":130,"v":74,"label":"263 meV"},{"t":140,"v":66,"label":"263 meV"},{"t":150,"v":63,"label":"263 meV"},{"t":160,"v":71,"label":"263 meV"},{"t":170,"v":70,"label":"263 meV"},{"t":180,"v":67,"label":"263 meV"},{"t":190,"v":62,"label":"263 meV"},{"t":200,"v":65,"label":"263 meV"},{"t":225,"v":69,"label":"263 meV"},{"t":250,"v":68,"label":"263 meV"},{"t":275,"v":60,"label":"263 meV"},{"t":300,"v":62,"label":"263 meV"},{"t":325,"v":67,"label":"263 meV"},{"t":350,"v":65,"label":"263 meV"},{"t":375,"v":57,"label":"263 meV"},{"t":400,"v":60,"label":"263 meV"},{"t":450,"v":63,"label":"263 meV"},{"t":500,"v":57,"label":"263 meV"},{"t":550,"v":54,"label":"263 meV"},{"t":600,"v":59,"label":"263 meV"},{"t":650,"v":61,"label":"263 meV"},{"t":700,"v":53,"label":"263 meV"},{"t":750,"v":51,"label":"263 meV"},{"t":800,"v":56,"label":"263 meV"},{"t":900,"v":57,"label":"263 meV"},{"t":1000,"v":50,"label":"263 meV"},{"t":1100,"v":47,"label":"263 meV"},{"t":1200,"v":53,"label":"263 meV"},{"t":1300,"v":54,"label":"263 meV"},{"t":1400,"v":47,"label":"263 meV"},{"t":1550,"v":45,"label":"263 meV"},{"t":1700,"v":51,"label":"263 meV"},{"t":1850,"v":52,"label":"263 meV"},{"t":2000,"v":45,"label":"263 meV"},{"t":2250,"v":43,"label":"263 meV"},{"t":2500,"v":49,"label":"263 meV"},{"t":2750,"v":50,"label":"263 meV"},{"t":3000,"v":44,"label":"263 meV"},{"t":3250,"v":42,"label":"263 meV"},{"t":3500,"v":48,"label":"263 meV"},{"t":3750,"v":50,"label":"263 meV"},{"t":4000,"v":43,"label":"263 meV"},{"t":4500,"v":43,"label":"263 meV"},{"t":5000,"v":47,"label":"263 meV"},{"t":5500,"v":49,"label":"263 meV"},{"t":6000,"v":44,"label":"263 meV"},{"t":6500,"v":42,"label":"263 meV"},{"t":7000,"v":48,"label":"263 meV"},{"t":7500,"v":49,"label":"263 meV"},{"t":8000,"v":43,"label":"263 meV"},{"t":9000,"v":43,"label":"263 meV"},{"t":10000,"v":47,"label":"263 meV"},{"t":11000,"v":48,"label":"263 meV"},{"t":12000,"v":44,"label":"263 meV"},{"t":13500,"v":44,"label":"263 meV"},{"t":15000,"v":46,"label":"263 meV"},
      {"t":1.72,"v":146,"label":"261 meV"},{"t":2,"v":161,"label":"261 meV"},{"t":2.5,"v":173,"label":"261 meV"},{"t":3,"v":187,"label":"261 meV"},{"t":3.5,"v":197,"label":"261 meV"},{"t":4,"v":204,"label":"261 meV"},{"t":4.5,"v":209,"label":"261 meV"},{"t":5,"v":206,"label":"261 meV"},{"t":5.5,"v":202,"label":"261 meV"},{"t":6,"v":199,"label":"261 meV"},{"t":6.5,"v":197,"label":"261 meV"},{"t":7,"v":201,"label":"261 meV"},{"t":7.5,"v":194,"label":"261 meV"},{"t":8,"v":191,"label":"261 meV"},{"t":9,"v":176,"label":"261 meV"},{"t":10,"v":167,"label":"261 meV"},{"t":11,"v":159,"label":"261 meV"},{"t":12,"v":151,"label":"261 meV"},{"t":14,"v":138,"label":"261 meV"},{"t":16,"v":125,"label":"261 meV"},{"t":18,"v":115,"label":"261 meV"},{"t":20,"v":106,"label":"261 meV"},{"t":23,"v":92,"label":"261 meV"},{"t":26,"v":80,"label":"261 meV"},{"t":30,"v":68,"label":"261 meV"},{"t":35,"v":57,"label":"261 meV"},{"t":40,"v":46,"label":"261 meV"},{"t":45,"v":39,"label":"261 meV"},{"t":50,"v":36,"label":"261 meV"},{"t":60,"v":35,"label":"261 meV"},{"t":70,"v":33,"label":"261 meV"},{"t":80,"v":23,"label":"261 meV"},{"t":90,"v":31,"label":"261 meV"},{"t":100,"v":36,"label":"261 meV"},{"t":110,"v":24,"label":"261 meV"},{"t":120,"v":28,"label":"261 meV"},{"t":130,"v":40,"label":"261 meV"},{"t":140,"v":37,"label":"261 meV"},{"t":150,"v":25,"label":"261 meV"},{"t":160,"v":26,"label":"261 meV"},{"t":170,"v":36,"label":"261 meV"},{"t":180,"v":34,"label":"261 meV"},{"t":190,"v":21,"label":"261 meV"},{"t":200,"v":24,"label":"261 meV"},{"t":225,"v":34,"label":"261 meV"},{"t":250,"v":31,"label":"261 meV"},{"t":275,"v":19,"label":"261 meV"},{"t":300,"v":21,"label":"261 meV"},{"t":325,"v":33,"label":"261 meV"},{"t":350,"v":29,"label":"261 meV"},{"t":375,"v":16,"label":"261 meV"},{"t":400,"v":18,"label":"261 meV"},{"t":450,"v":30,"label":"261 meV"},{"t":500,"v":26,"label":"261 meV"},{"t":550,"v":13,"label":"261 meV"},{"t":600,"v":15,"label":"261 meV"},{"t":650,"v":27,"label":"261 meV"},{"t":700,"v":24,"label":"261 meV"},{"t":750,"v":20,"label":"261 meV"},{"t":800,"v":13,"label":"261 meV"},{"t":900,"v":10,"label":"261 meV"},{"t":1000,"v":22,"label":"261 meV"},{"t":1100,"v":26,"label":"261 meV"},{"t":1200,"v":11,"label":"261 meV"},{"t":1300,"v":8,"label":"261 meV"},{"t":1400,"v":21,"label":"261 meV"},{"t":1550,"v":24,"label":"261 meV"},{"t":1700,"v":10,"label":"261 meV"},{"t":1850,"v":12,"label":"261 meV"},{"t":2000,"v":20,"label":"261 meV"},{"t":2250,"v":25,"label":"261 meV"},{"t":2500,"v":12,"label":"261 meV"},{"t":2750,"v":9,"label":"261 meV"},{"t":3000,"v":22,"label":"261 meV"},{"t":3250,"v":22,"label":"261 meV"},{"t":3500,"v":10,"label":"261 meV"},{"t":3750,"v":6,"label":"261 meV"},{"t":4000,"v":20,"label":"261 meV"},{"t":4500,"v":19,"label":"261 meV"},{"t":5000,"v":11,"label":"261 meV"},{"t":5500,"v":10,"label":"261 meV"},{"t":6000,"v":21,"label":"261 meV"},{"t":6500,"v":24,"label":"261 meV"},{"t":7000,"v":9,"label":"261 meV"},{"t":7500,"v":8,"label":"261 meV"},{"t":8000,"v":23,"label":"261 meV"},{"t":9000,"v":20,"label":"261 meV"},{"t":10000,"v":11,"label":"261 meV"},{"t":11000,"v":7,"label":"261 meV"},{"t":12000,"v":20,"label":"261 meV"},{"t":13500,"v":19,"label":"261 meV"},{"t":15000,"v":13,"label":"261 meV"}
    ],
    "fitsB": [
      {"t":9,"v":345,"label":"269 meV"},{"t":10,"v":339,"label":"269 meV"},{"t":12,"v":327,"label":"269 meV"},{"t":14,"v":316,"label":"269 meV"},{"t":16,"v":303,"label":"269 meV"},{"t":18,"v":289,"label":"269 meV"},{"t":20,"v":276,"label":"269 meV"},{"t":23,"v":259,"label":"269 meV"},{"t":26,"v":246,"label":"269 meV"},{"t":30,"v":231,"label":"269 meV"},{"t":35,"v":217,"label":"269 meV"},{"t":40,"v":207,"label":"269 meV"},{"t":50,"v":193,"label":"269 meV"},{"t":60,"v":185,"label":"269 meV"},{"t":70,"v":180,"label":"269 meV"},{"t":80,"v":178,"label":"269 meV"},{"t":100,"v":176,"label":"269 meV"},{"t":150,"v":175,"label":"269 meV"},{"t":200,"v":174,"label":"269 meV"},{"t":300,"v":173,"label":"269 meV"},{"t":500,"v":170,"label":"269 meV"},{"t":800,"v":167,"label":"269 meV"},{"t":1000,"v":165,"label":"269 meV"},{"t":1500,"v":162,"label":"269 meV"},{"t":2000,"v":160,"label":"269 meV"},{"t":3000,"v":157,"label":"269 meV"},{"t":5000,"v":155,"label":"269 meV"},{"t":8000,"v":153,"label":"269 meV"},{"t":15000,"v":152,"label":"269 meV"},
      {"t":9,"v":311,"label":"267 meV"},{"t":10,"v":306,"label":"267 meV"},{"t":12,"v":295,"label":"267 meV"},{"t":14,"v":283,"label":"267 meV"},{"t":16,"v":271,"label":"267 meV"},{"t":18,"v":257,"label":"267 meV"},{"t":20,"v":243,"label":"267 meV"},{"t":23,"v":227,"label":"267 meV"},{"t":26,"v":213,"label":"267 meV"},{"t":30,"v":198,"label":"267 meV"},{"t":35,"v":183,"label":"267 meV"},{"t":40,"v":173,"label":"267 meV"},{"t":50,"v":160,"label":"267 meV"},{"t":60,"v":154,"label":"267 meV"},{"t":70,"v":151,"label":"267 meV"},{"t":80,"v":149,"label":"267 meV"},{"t":100,"v":148,"label":"267 meV"},{"t":150,"v":145,"label":"267 meV"},{"t":200,"v":143,"label":"267 meV"},{"t":300,"v":140,"label":"267 meV"},{"t":500,"v":135,"label":"267 meV"},{"t":800,"v":129,"label":"267 meV"},{"t":1000,"v":125,"label":"267 meV"},{"t":1500,"v":120,"label":"267 meV"},{"t":2000,"v":118,"label":"267 meV"},{"t":3000,"v":115,"label":"267 meV"},{"t":5000,"v":113,"label":"267 meV"},{"t":8000,"v":113,"label":"267 meV"},{"t":15000,"v":112,"label":"267 meV"},
      {"t":8,"v":271,"label":"265 meV"},{"t":9,"v":263,"label":"265 meV"},{"t":10,"v":255,"label":"265 meV"},{"t":12,"v":241,"label":"265 meV"},{"t":14,"v":227,"label":"265 meV"},{"t":16,"v":211,"label":"265 meV"},{"t":18,"v":195,"label":"265 meV"},{"t":20,"v":181,"label":"265 meV"},{"t":23,"v":163,"label":"265 meV"},{"t":26,"v":148,"label":"265 meV"},{"t":30,"v":134,"label":"265 meV"},{"t":35,"v":122,"label":"265 meV"},{"t":40,"v":115,"label":"265 meV"},{"t":50,"v":109,"label":"265 meV"},{"t":60,"v":106,"label":"265 meV"},{"t":80,"v":103,"label":"265 meV"},{"t":100,"v":102,"label":"265 meV"},{"t":150,"v":101,"label":"265 meV"},{"t":200,"v":99,"label":"265 meV"},{"t":300,"v":96,"label":"265 meV"},{"t":500,"v":91,"label":"265 meV"},{"t":800,"v":86,"label":"265 meV"},{"t":1000,"v":83,"label":"265 meV"},{"t":1500,"v":78,"label":"265 meV"},{"t":2000,"v":76,"label":"265 meV"},{"t":3000,"v":74,"label":"265 meV"},{"t":5000,"v":73,"label":"265 meV"},{"t":8000,"v":72,"label":"265 meV"},{"t":15000,"v":71,"label":"265 meV"},
      {"t":7,"v":247,"label":"263 meV"},{"t":7.5,"v":242,"label":"263 meV"},{"t":8,"v":237,"label":"263 meV"},{"t":9,"v":228,"label":"263 meV"},{"t":10,"v":220,"label":"263 meV"},{"t":12,"v":203,"label":"263 meV"},{"t":14,"v":188,"label":"263 meV"},{"t":16,"v":175,"label":"263 meV"},{"t":18,"v":164,"label":"263 meV"},{"t":20,"v":155,"label":"263 meV"},{"t":23,"v":140,"label":"263 meV"},{"t":26,"v":125,"label":"263 meV"},{"t":30,"v":110,"label":"263 meV"},{"t":35,"v":94,"label":"263 meV"},{"t":40,"v":83,"label":"263 meV"},{"t":50,"v":75,"label":"263 meV"},{"t":60,"v":73,"label":"263 meV"},{"t":80,"v":71,"label":"263 meV"},{"t":100,"v":69,"label":"263 meV"},{"t":150,"v":67,"label":"263 meV"},{"t":200,"v":65,"label":"263 meV"},{"t":300,"v":62,"label":"263 meV"},{"t":500,"v":58,"label":"263 meV"},{"t":800,"v":54,"label":"263 meV"},{"t":1000,"v":52,"label":"263 meV"},{"t":1500,"v":49,"label":"263 meV"},{"t":2000,"v":48,"label":"263 meV"},{"t":3000,"v":47,"label":"263 meV"},{"t":5000,"v":47,"label":"263 meV"},{"t":15000,"v":47,"label":"263 meV"},
      {"t":6,"v":210,"label":"261 meV"},{"t":7,"v":201,"label":"261 meV"},{"t":8,"v":192,"label":"261 meV"},{"t":9,"v":180,"label":"261 meV"},{"t":10,"v":171,"label":"261 meV"},{"t":11,"v":163,"label":"261 meV"},{"t":12,"v":156,"label":"261 meV"},{"t":14,"v":145,"label":"261 meV"},{"t":16,"v":134,"label":"261 meV"},{"t":18,"v":123,"label":"261 meV"},{"t":20,"v":113,"label":"261 meV"},{"t":23,"v":100,"label":"261 meV"},{"t":26,"v":88,"label":"261 meV"},{"t":30,"v":75,"label":"261 meV"},{"t":35,"v":62,"label":"261 meV"},{"t":40,"v":52,"label":"261 meV"},{"t":45,"v":46,"label":"261 meV"},{"t":50,"v":42,"label":"261 meV"},{"t":60,"v":37,"label":"261 meV"},{"t":70,"v":34,"label":"261 meV"},{"t":80,"v":33,"label":"261 meV"},{"t":100,"v":32,"label":"261 meV"},{"t":150,"v":30,"label":"261 meV"},{"t":200,"v":28,"label":"261 meV"},{"t":300,"v":25,"label":"261 meV"},{"t":500,"v":21,"label":"261 meV"},{"t":800,"v":18,"label":"261 meV"},{"t":1000,"v":17,"label":"261 meV"},{"t":1500,"v":16,"label":"261 meV"},{"t":2000,"v":15,"label":"261 meV"},{"t":5000,"v":14,"label":"261 meV"},{"t":15000,"v":14,"label":"261 meV"}
    ],
    "arrowB": [{"t":5.05,"v":176,"t2":10,"v2":381}],
    "arrowHeadB": [{"t":9.8,"v":375}],
    "tempTagB": [{"t":2.25,"v":346,"text":"10K"}],
    "panelTagB": [{"t":2.25,"v":385,"text":"b)"}],
    "insetFrame": [{"E":260,"E2":270,"T":1,"T2":4850}],
    "insetPoints": [
      {"E":261,"T":13.1,"label":"261 meV"},{"E":263,"T":15.5,"label":"263 meV"},{"E":265,"T":18.2,"label":"265 meV"},{"E":267,"T":18.2,"label":"267 meV"},{"E":269,"T":17.2,"label":"269 meV"},
      {"E":261,"T":550,"label":"261 meV"},{"E":263,"T":493,"label":"263 meV"},{"E":265,"T":1115,"label":"265 meV"},{"E":267,"T":1243,"label":"267 meV"},{"E":269,"T":2660,"label":"269 meV"}
    ],
    "insetArrows": [
      {"E":263.65,"T":142,"arrow":"tau2"},{"E":264.43,"T":150,"arrow":"tau2"},{"E":265.34,"T":186,"arrow":"tau2"},{"E":266.26,"T":272,"arrow":"tau2"},{"E":266.94,"T":444,"arrow":"tau2"},
      {"E":263.74,"T":5.12,"arrow":"tau1"},{"E":265.2,"T":5.12,"arrow":"tau1"}
    ],
    "insetHeadTau2": [{"E":266.71,"T":375}],
    "insetHeadTau1": [{"E":265.07,"T":5.12}],
    "insetTags": [{"E":267.3,"T":92,"text":"τ₂"},{"E":262.24,"T":3.5,"text":"τ₁"}]
  },
  "hconcat": [
    {
      "width": 505,
      "height": 408,
      "encoding": {
        "x": {"field": "t", "type": "quantitative", "scale": {"domain": [1, 300], "nice": false, "zero": false},
              "axis": {"title": "Time (ps)", "values": [100, 200], "labelExpr": "datum.value == 200 ? '200' : ''", "tickSize": -7, "labelPadding": 19, "titlePadding": 8}},
        "y": {"field": "v", "type": "quantitative", "scale": {"type": "log", "domain": [0.01, 3.07], "nice": false},
              "axis": {"title": "Normalized TA", "labelFontSize": 19,
                       "values": [0.01,0.02,0.03,0.04,0.05,0.06,0.07,0.08,0.09,0.1,0.2,0.3,0.4,0.5,0.6,0.7,0.8,0.9,1,2,3],
                       "labelExpr": "datum.value == 0.01 ? '0.01' : datum.value == 0.1 ? '0.1' : datum.value == 1 ? '1' : ''",
                       "tickSize": {"condition": {"test": "datum.value == 0.01 || datum.value == 0.1 || datum.value == 1", "value": -9}, "value": -5},
                       "labelPadding": 17, "titlePadding": 6}}
      },
      "layer": [
        {
          "data": {"name": "tracesA"},
          "mark": {"type": "line", "strokeWidth": 1.3},
          "encoding": {
            "color": {"field": "series", "type": "nominal",
                      "scale": {"domain": ["300K", "10K", "bi-exponential decay", "bi-exponential decay (10K)"], "range": ["#b5b5b5", "#ffb1b1", "#000000", "#ff1f1f"]},
                      "legend": null}
          }
        },
        {
          "data": {"name": "fitsA"},
          "mark": {"type": "line", "strokeWidth": 3, "strokeDash": [10, 7]},
          "encoding": {
            "color": {"field": "series", "type": "nominal", "legend": null}
          }
        },
        {
          "data": {"name": "keyA"},
          "transform": [{"filter": "datum.series != 'bi-exponential decay'"}],
          "mark": {"type": "rule", "strokeWidth": 1.6},
          "encoding": {"x2": {"field": "t2"}, "color": {"field": "series", "type": "nominal", "legend": null}}
        },
        {
          "data": {"name": "keyA"},
          "transform": [{"filter": "datum.series == 'bi-exponential decay'"}],
          "mark": {"type": "rule", "strokeWidth": 3.5, "strokeDash": [12, 14]},
          "encoding": {"x2": {"field": "t2"}, "color": {"field": "series", "type": "nominal", "legend": null}}
        },
        {
          "data": {"name": "keyLabelsA"},
          "mark": {"type": "text", "align": "left", "baseline": "middle", "fontSize": 21, "color": "#000000"},
          "encoding": {"text": {"field": "text"}}
        },
        {
          "data": {"name": "leadersA"},
          "transform": [{"filter": "datum.sample == '10K'"}],
          "mark": {"type": "rule", "color": "#ff1f1f", "strokeWidth": 1.2},
          "encoding": {"x2": {"field": "t2"}, "y2": {"field": "v2"}}
        },
        {
          "data": {"name": "leadersA"},
          "transform": [{"filter": "datum.sample == '300K'"}],
          "mark": {"type": "rule", "color": "#000000", "strokeWidth": 1.2},
          "encoding": {"x2": {"field": "t2"}, "y2": {"field": "v2"}}
        },
        {
          "data": {"name": "notesA"},
          "transform": [{"filter": "datum.sample == '10K'"}],
          "mark": {"type": "text", "align": "left", "baseline": "middle", "fontSize": 20, "color": "#ff1f1f"},
          "encoding": {"text": {"field": "text"}}
        },
        {
          "data": {"name": "notesA"},
          "transform": [{"filter": "datum.sample == '300K'"}],
          "mark": {"type": "text", "align": "left", "baseline": "middle", "fontSize": 20, "color": "#000000"},
          "encoding": {"text": {"field": "text"}}
        },
        {
          "data": {"name": "panelTagA"},
          "mark": {"type": "text", "align": "left", "baseline": "middle", "fontSize": 21, "color": "#000000"},
          "encoding": {"text": {"field": "text"}}
        },
        {
          "data": {"name": "sampleTagA"},
          "mark": {"type": "text", "align": "right", "baseline": "middle", "fontSize": 21, "color": "#000000"},
          "encoding": {"text": {"field": "text"}}
        }
      ]
    },
    {
      "width": 506,
      "height": 408,
      "layer": [
        {
          "encoding": {
            "x": {"field": "t", "type": "quantitative", "scale": {"type": "log", "domain": [1.71, 15400], "nice": false},
                  "axis": {"orient": "bottom", "title": "Time (ps)",
                           "values": [2,3,4,5,6,7,8,9,10,20,30,40,50,60,70,80,90,100,200,300,400,500,600,700,800,900,1000,2000,3000,4000,5000,6000,7000,8000,9000,10000],
                           "labelExpr": "datum.value == 10 ? '10' : datum.value == 100 ? '100' : datum.value == 1000 ? '1000' : datum.value == 10000 ? '10000' : ''",
                           "tickSize": {"condition": {"test": "datum.value == 10 || datum.value == 100 || datum.value == 1000 || datum.value == 10000", "value": -8}, "value": -4},
                           "labelPadding": 19, "titlePadding": 8}},
            "y": {"field": "v", "type": "quantitative", "scale": {"domain": [0, 409], "nice": false, "zero": false}, "axis": null}
          },
          "layer": [
            {
              "data": {"name": "tracesB"},
              "mark": {"type": "line", "strokeWidth": 1.3},
              "encoding": {
                "color": {"field": "label", "type": "nominal",
                          "scale": {"domain": ["269 meV", "267 meV", "265 meV", "263 meV", "261 meV"], "range": ["#a9b3f7", "#b7a6ee", "#d3a8de", "#e9aac4", "#ffacac"]},
                          "legend": {"title": null, "orient": "bottom-left", "offset": 10, "labelFontSize": 15, "symbolType": "stroke", "symbolSize": 1100, "symbolStrokeWidth": 1.8, "rowPadding": 3, "labelOffset": 5, "padding": 0}}
              }
            },
            {
              "data": {"name": "fitsB"},
              "mark": {"type": "line", "strokeWidth": 3.2, "strokeDash": [12, 8]},
              "encoding": {
                "stroke": {"field": "label", "type": "nominal",
                           "scale": {"domain": ["269 meV", "267 meV", "265 meV", "263 meV", "261 meV"], "range": ["#1f2ff0", "#5a14c4", "#7b1590", "#c0103c", "#f5161b"]},
                           "legend": null}
              }
            },
            {
              "data": {"name": "arrowB"},
              "mark": {"type": "rule", "color": "#000000", "strokeWidth": 1.3},
              "encoding": {"x2": {"field": "t2"}, "y2": {"field": "v2"}}
            },
            {
              "data": {"name": "arrowHeadB"},
              "mark": {"type": "point", "shape": "M-0.45,1L0,-1L0.45,1Z", "filled": true, "color": "#000000", "opacity": 1, "size": 150, "angle": 10}
            },
            {
              "data": {"name": "tempTagB"},
              "mark": {"type": "text", "align": "left", "baseline": "middle", "fontSize": 21, "color": "#000000"},
              "encoding": {"text": {"field": "text"}}
            },
            {
              "data": {"name": "panelTagB"},
              "mark": {"type": "text", "align": "left", "baseline": "middle", "fontSize": 21, "color": "#000000"},
              "encoding": {"text": {"field": "text"}}
            }
          ]
        },
        {
          "encoding": {
            "x": {"field": "E", "type": "quantitative", "scale": {"domain": [260, 270], "range": [278, 497], "nice": false, "zero": false},
                  "axis": {"orient": "bottom", "offset": -245, "title": "Energy (meV)", "values": [260, 262, 264, 266, 268, 270], "format": "d",
                           "labelFontSize": 16, "titleFontSize": 14, "tickSize": 5, "labelPadding": 6, "titlePadding": 6}},
            "y": {"field": "T", "type": "quantitative", "scale": {"type": "log", "domain": [1, 4850], "range": [163, 7], "nice": false},
                  "axis": {"orient": "left", "offset": -278, "title": "Time (ps)",
                           "values": [1,2,3,4,5,6,7,8,9,10,20,30,40,50,60,70,80,90,100,200,300,400,500,600,700,800,900,1000,2000,3000,4000],
                           "labelExpr": "datum.value == 1 ? '1' : datum.value == 10 ? '10' : datum.value == 100 ? '100' : datum.value == 1000 ? '1000' : ''",
                           "tickSize": {"condition": {"test": "datum.value == 1 || datum.value == 10 || datum.value == 100 || datum.value == 1000", "value": -6}, "value": -3},
                           "labelFontSize": 16, "titleFontSize": 14, "labelPadding": 11, "titlePadding": 8}}
          },
          "layer": [
            {
              "data": {"name": "insetFrame"},
              "mark": {"type": "rect", "fill": "#ffffff", "stroke": "#000000", "strokeWidth": 1.5},
              "encoding": {"x2": {"field": "E2"}, "y2": {"field": "T2"}}
            },
            {
              "data": {"name": "insetArrows"},
              "mark": {"type": "line", "color": "#000000", "strokeWidth": 1.3, "interpolate": "monotone"},
              "encoding": {"detail": {"field": "arrow"}}
            },
            {
              "data": {"name": "insetHeadTau2"},
              "mark": {"type": "point", "shape": "M-1,-0.45L1,0L-1,0.45Z", "filled": true, "color": "#000000", "opacity": 1, "size": 130, "angle": -31}
            },
            {
              "data": {"name": "insetHeadTau1"},
              "mark": {"type": "point", "shape": "M-1,-0.45L1,0L-1,0.45Z", "filled": true, "color": "#000000", "opacity": 1, "size": 130}
            },
            {
              "data": {"name": "insetPoints"},
              "mark": {"type": "point", "shape": "circle", "filled": true, "opacity": 1, "size": 85},
              "encoding": {
                "fill": {"field": "label", "type": "nominal",
                         "scale": {"domain": ["261 meV", "263 meV", "265 meV", "267 meV", "269 meV"], "range": ["#f31c22", "#cf1238", "#74147f", "#3f16cf", "#1c1cf0"]},
                         "legend": null}
              }
            },
            {
              "data": {"name": "insetTags"},
              "mark": {"type": "text", "align": "center", "baseline": "middle", "fontSize": 18, "color": "#000000"},
              "encoding": {"text": {"field": "text"}}
            }
          ]
        }
      ],
      "resolve": {"scale": {"x": "independent", "y": "independent"}}
    }
  ]
}
